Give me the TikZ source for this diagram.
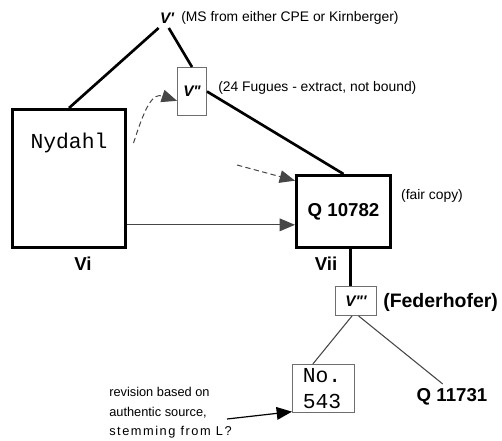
\documentclass[tikz,border=0pt]{standalone}
\usepackage{fontspec}
\setmainfont{Liberation Sans}
\newfontfamily\courierfont{Liberation Mono}
\usepackage{tikz}
\usetikzlibrary{
  arrows.meta,
  positioning
}
\definecolor{LineGrey}  {RGB}{70, 70, 70}
\definecolor{FrameGrey} {RGB}{110, 110, 110}

\begin{document}
\begin{tikzpicture}[
  x=0.75pt, y=-0.75pt,
  thickbox/.style={
    draw, line width=2.25pt,
    inner sep=0pt},
  thinbox/.style={
    draw=FrameGrey, line width=0.75pt,
    inner sep=0pt,
    font=\fontsize{11.5}{13}\selectfont\bfseries\itshape},
  note/.style={
    inner sep=0pt,
    font=\fontsize{10.4}{12.5}\selectfont},
  siglum/.style={
    font=\fontsize{14}{16}\selectfont\bfseries},
  mono/.style={
    font=\fontsize{16}{19}\selectfont\courierfont},
  thickline/.style={
    line width=2pt},
  thinline/.style={
    LineGrey, line width=0.8pt},
  arrow/.style={
    -{Triangle[length=11.5pt,width=9.5pt]}, line width=0.9pt},
  dasharrow/.style={
    LineGrey, line width=0.75pt,
    dash pattern=on 4pt off 2.5pt,
    -{Triangle[length=11.5pt,width=9.5pt]}}
]
\useasboundingbox (0,0) rectangle (502,441);

\node[siglum, font=\fontsize{11.5}{13}\selectfont\bfseries\itshape]
  (vp) at (167,18) {V\textquotesingle};
\node[note, anchor=west] (mslbl) at (181,18)
  {(MS from either CPE or Kirnberger)};

\node[thinbox, minimum width=21.75pt, minimum height=36pt]
  (vpp) at (192,91.5) {V\textquotedbl};
\node[note, anchor=west] (fuglbl) at (218,88)
  {(24 Fugues - extract, not bound)};

\node[thickbox, minimum width=84.75pt, minimum height=103.5pt]
  (nyd) at (69,178.5) {};
\node[mono] (nydtxt) at (69,143) {Nydahl};
\node[siglum] (vi) at (83,264) {Vi};

\node[thickbox, siglum, inner sep=0pt,
  minimum width=70.5pt, minimum height=54pt]
  (q1) at (343.5,211.5) {Q 10782};
\node[note] (fair) at (432,196) {(fair copy)};
\node[siglum] (vii) at (326,264) {Vii};

\node[thinbox, minimum width=30.75pt, minimum height=21.75pt]
  (vppp) at (356,301) {V\textquotedbl\textquotesingle};
\node[siglum, anchor=west, inner sep=0pt,
  font=\fontsize{14.6}{17}\selectfont\bfseries]
  (feder) at (383,302) {(Federhofer)};

\node[mono, draw=FrameGrey, line width=1pt,
  align=left, text width=31pt, inner xsep=7.5pt, inner ysep=0pt,
  minimum width=46.25pt, minimum height=35.75pt]
  (num) at (323.5,388.5) {No.\\543};
\node[siglum] (q2) at (452,397) {Q 11731};

\node[note, anchor=west, align=left,
  font=\fontsize{9.6}{14.6}\selectfont]
  (rev) at (109,413)
  {revision based on\\authentic source,\\
   {\addfontfeature{LetterSpace=12}stemming from L?}};

% descent lines
\draw[thickline] (vp.-130) -- (nyd.north);
\draw[thickline] (vp.-80) -- (vpp.north);
\draw[thickline] (vpp.east) -- (q1.north);
\draw[thickline] ([xshift=5pt]q1.south)
  -- ([xshift=5pt]q1.south |- vppp.north);
\draw[thinline] (vppp.-105) -- ([xshift=-8pt]num.north);
\draw[thinline] (vppp.-80) -- ([xshift=-7pt]q2.north);

% copying relations
\coordinate (q1in) at ([yshift=-10pt]q1.west);
\draw[arrow, LineGrey] (nyd.east |- q1in) -- (q1in);
\draw[dasharrow] ([shift={(4.9pt,26.6pt)}]nyd.east)
  .. controls +(12,-38) and +(-24,-8) .. ([yshift=-7pt]vpp.west);
\coordinate (dfree) at (237,165);
\draw[dasharrow] (dfree) -- ([yshift=-5pt]q1.north west);
\coordinate (revpt) at (227,419);
\draw[arrow] (revpt) -- ([yshift=1pt]num.south west);
\end{tikzpicture}
\end{document}
